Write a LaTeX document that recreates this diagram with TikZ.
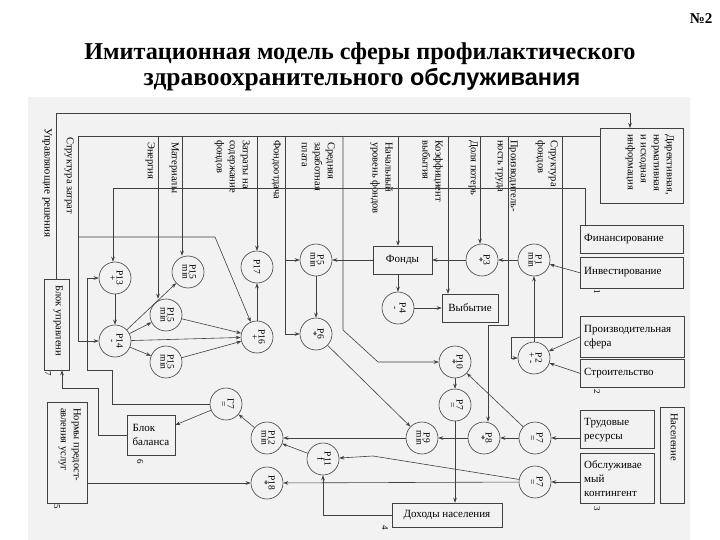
\documentclass[tikz,border=0pt]{standalone}
\usepackage{fontspec}
\setmainfont{Liberation Serif}
\newfontfamily\arialf{Liberation Sans}
\usetikzlibrary{arrows.meta,calc}
\newcommand\plab[2]{\rotatebox{-90}{\begin{tabular}{@{}c@{}}#1\\[-3pt]#2\end{tabular}}}
\newcommand\plabone[1]{\rotatebox{-90}{#1}}
\begin{document}
\begin{tikzpicture}[x=1pt,y=-1pt,
  ln/.style={draw=black!75, line width=0.6pt},
  arr/.style={ln, -{Stealth[length=5pt,width=3.6pt]}},
  pc/.style={circle, draw=black!75, line width=0.6pt, minimum size=32pt, inner sep=0pt, font=\fontsize{9.5}{10}\selectfont},
  bx/.style={rectangle, draw=black!75, line width=0.6pt, inner sep=0pt},
  vlab/.style={rotate=-90, anchor=north west, align=left, inner sep=0pt, font=\fontsize{10.5}{13}\selectfont},
  hlab/.style={anchor=west, align=left, inner sep=0pt, font=\fontsize{11}{14}\selectfont},
  num/.style={rotate=-90, inner sep=0pt, font=\fontsize{9}{9}\selectfont},
]
\useasboundingbox (0,0) rectangle (720,540);
\fill[white] (0,0) rectangle (720,540);
\fill[black!5] (28,97) rectangle (690,540);

% title
\node[font=\bfseries\fontsize{24.2}{27}\selectfont] (t1) at (360,54) {Имитационная модель сферы профилактического};
\node[font=\bfseries\fontsize{25.5}{28}\selectfont] (t2) at (362,80) {здравоохранительного {\arialf\fontsize{23.5}{28}\selectfont обслуживания}};
\node[font=\bfseries\fontsize{15}{15}\selectfont, anchor=east] (no) at (716,19) {№2};

% boxes
\node[bx, minimum width=83, minimum height=75, anchor=north west] (dir) at (600,128) {};
\node[vlab] (dirt) at (674,134) {Директивная,\\нормативная\\и исходная\\информация};
\node[bx, minimum width=103, minimum height=28, anchor=north west] (fin) at (580,225) {};
\node[hlab] (fint) at (584,239) {Финансирование};
\node[bx, minimum width=103, minimum height=31, anchor=north west] (invest) at (580,257) {};
\node[hlab] (investt) at (584,272) {Инвестирование};
\node[bx, minimum width=104, minimum height=41, anchor=north west] (prod) at (580,316) {};
\node[hlab] (prodt) at (584,337) {Производительная\\сфера};
\node[bx, minimum width=104, minimum height=28, anchor=north west] (build) at (580,359) {};
\node[hlab] (buildt) at (584,373) {Строительство};
\node[bx, minimum width=74, minimum height=38, anchor=north west] (labor) at (580,410) {};
\node[hlab] (labort) at (584,430) {Трудовые\\ресурсы};
\node[bx, minimum width=74, minimum height=50, anchor=north west] (serv) at (580,453) {};
\node[hlab] (servt) at (584,479) {Обслуживае\\мый\\контингент};
\node[bx, minimum width=24, minimum height=96, anchor=north west] (pop) at (660,407) {};
\node[vlab] (popt) at (678,413) {Население};
\node[bx, minimum width=59, minimum height=28, font=\fontsize{11}{13}\selectfont] (funds) at (402.5,260) {Фонды};
\node[bx, minimum width=56, minimum height=28, font=\fontsize{11}{13}\selectfont] (vyb) at (470,308) {Выбытие};
\node[bx, minimum width=110, minimum height=24, font=\fontsize{11}{13}\selectfont] (income) at (447,515) {Доходы населения};
\node[bx, minimum width=48, minimum height=40, align=left, font=\fontsize{11}{14}\selectfont] (balance) at (151,435) {Блок\\баланса};
\node[bx, minimum width=25, minimum height=91] (upr) at (56.5,324.5) {};
\node[vlab] (uprt) at (63,285) {Блок управлени};
\node[bx, minimum width=40, minimum height=101] (norms) at (67,452.5) {};
\node[vlab] (normst) at (81,408) {Нормы предост-\\авления услуг};

% vertical labels
\node[vlab, font=\fontsize{11}{13}\selectfont] (l0) at (52,128) {Управляющие решения};
\node[vlab] (l1) at (74,137) {Структура затрат};
\node[vlab] (l2) at (155,142) {Энергия};
\node[vlab] (l3) at (179,142) {Материалы};
\node[vlab] (l4) at (250,140) {Затраты на\\содержание\\фондов};
\node[vlab] (l5) at (281,140) {Фондоотдача};
\node[vlab] (l6) at (335,142) {Средняя\\заработная\\плата};
\node[vlab] (l7) at (393,142) {Начальный\\уровень фондов};
\node[vlab] (l8) at (443,140) {Коэффициент\\выбытия};
\node[vlab] (l9) at (478,140) {Доля потерь};
\node[vlab] (l10) at (518,140) {Производитель-\\ность труда};
\node[vlab] (l11) at (558,140) {Структура\\фондов};

% numbers
\node[num] (n1) at (597,292) {1};
\node[num] (n2) at (597,392) {2};
\node[num] (n3) at (597,509) {3};
\node[num] (n4) at (385,528) {4};
\node[num] (n5) at (57,507) {5};
\node[num] (n6) at (140,462) {6};
\node[num] (n7) at (48,374) {7};

% circles
\node[pc] (P1) at (534,260) {\plab{P1}{min}};
\node[pc] (P2) at (534,358) {\plab{P2}{+ -}};
\node[pc] (P3) at (482,260) {\plab{P3}{*}};
\node[pc] (P4) at (398,308) {\plab{P4}{-}};
\node[pc] (P5) at (316,260) {\plab{P5}{min}};
\node[pc] (P6) at (316,334) {\plab{P6}{*}};
\node[pc] (P7a) at (535,438) {\plab{P7}{=}};
\node[pc] (P7b) at (455,405) {\plab{P7}{=}};
\node[pc] (P7c) at (535,482) {\plab{P7}{=}};
\node[pc] (P8) at (484,438) {\plab{P8}{*}};
\node[pc] (P9) at (422,438) {\plab{P9}{min}};
\node[pc] (P10) at (455,362) {\plab{P10}{*}};
\node[pc] (P11) at (323,459) {\plab{P11}{f}};
\node[pc] (P12) at (267,438) {\plab{P12}{min}};
\node[pc] (P13) at (115,278) {\plab{P13}{+}};
\node[pc] (P14) at (115,341) {\plab{P14}{-}};
\node[pc] (P15a) at (188,272) {\plab{P15}{min}};
\node[pc] (P15b) at (166,315) {\plab{P15}{min}};
\node[pc] (P15c) at (166,362) {\plab{P15}{min}};
\node[pc] (P16) at (257,337) {\plab{P16}{+}};
\node[pc] (P17) at (257,267) {\plabone{P17}};
\node[pc] (P18) at (267,483) {\plab{P18}{*}};
\node[pc] (G7) at (226,404) {\plab{Г7}{=}};

% outer loop
\draw[arr] (upr.north) |- (630,113) -- (630,0 |- dir.north);
% inner frame from directive box
\coordinate (dout) at (600,136);
\draw[ln] (dout) -- (78,136);
\draw[arr] (78,136) |- (P14.west);
\draw[arr] (78,237) -- (215,237) -- (P16);
\draw[arr] (158,136) -- (158,0 |- P15b.north);
\draw[arr] (182,136) -- (182,0 |- P15a.north);
\draw[arr] (257,136) -- (P17.north);
\draw[arr] (285,136) |- (P6.west);
\draw[arr] (285,260) -- (P5.west);
\draw[arr] (343,136) -- (343,330) -- (378,362) -- (P10.west);
\draw[arr] (398,136) -- (398,0 |- funds.north);
\draw[arr] (448,136) -- (448,0 |- vyb.north);
\draw[arr] (480,136) -- (480,0 |- P3.north);
\draw[arr] (508,136) -- (508,325) -- (488,325) -- (488,0 |- P8.north);
\draw[arr] (562,136) -- (562,337) -- (511,337) |- (P2.west);
% financing
\draw[arr] ([xshift=5pt]fin.north west) |- (113,188) -- (113,0 |- P13.north);
% right part
\draw[arr] (invest.west) -- (P1);
\draw[arr] (prod.west) -- (P2);
\draw[arr] (build.west) -- (P2);
\draw[arr] (P2) -- (P1);
\draw[arr] (P1) -- (P3);
\draw[arr] (P3) -- (funds);
\draw[arr] (funds.west |- P5) -- (P5);
\draw[arr] (398,0 |- funds.south) -- (398,0 |- P4.north);
\draw[arr] (P4) -- (vyb.west |- P4);
\draw[arr] (P5) -- (P6);
\draw[arr] (P6) -- (P9);
\draw[arr] (labor.west |- P7a) -- (P7a);
\draw[arr] (serv.west |- P7c) -- (P7c);
\draw[arr] (P7a) -- (P8);
\draw[arr] (P7a) -- (P10);
\draw[arr] (P8) -- (P9);
\draw[arr] (P10) -- (P7b);
\draw[arr] (P7b) -- (P7b |- income.north);
\draw[arr] (P9) -- (P12);
\draw[arr] (P7c) -- (373,456) -- (P11);
\draw[arr] (P7c) -- (P18);
\draw[arr] (income.west) -| (P11);
\draw[arr] (P11) -- (P12);
\draw[arr] (norms.east |- P18) -- (P18);
\draw[arr] (P12) -- (G7);
\draw[arr] (G7) -- (balance);
\draw[arr] (G7.west) -- (112,404) -- (112,370) -- (87,370) |- (P13.west);
\draw[arr] (balance.west) -- (98,435) -- (98,388) -- (62,388) -- (62,0 |- upr.south);
% left cluster
\draw[arr] (P13) -- (P14);
\draw[arr] (P14) -- (P15a);
\draw[arr] (P14) -- (P15b);
\draw[arr] (P14) -- (P15c);
\draw[arr] (P14) -- (P16);
\draw[arr] (P15b) -- (P16);
\draw[arr] (P15c) -- (P16);
\draw[arr] (P16) -- (P17);
\end{tikzpicture}
\end{document}
